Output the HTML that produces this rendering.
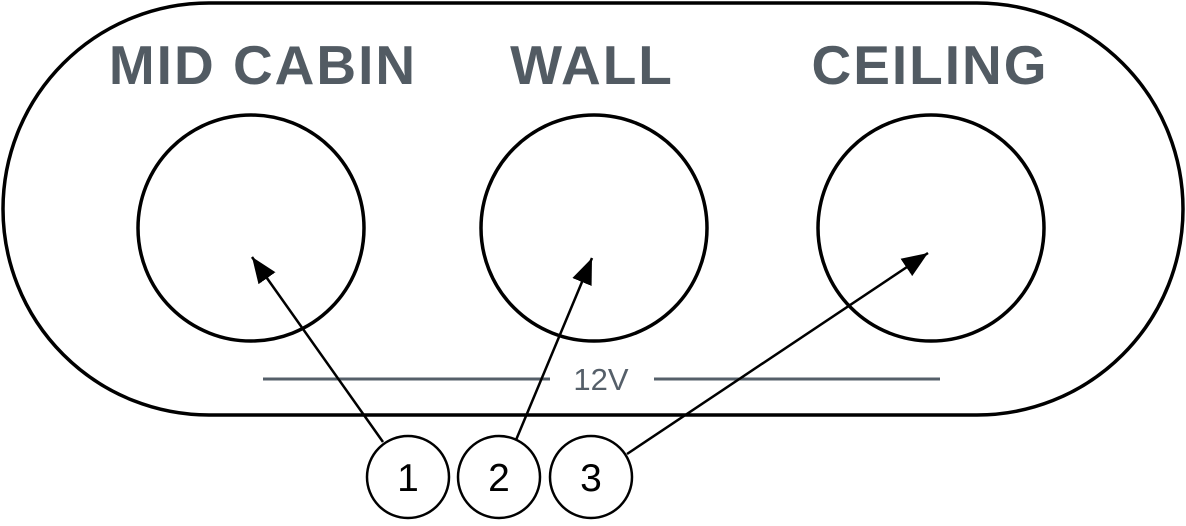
<!DOCTYPE html>
<html><head><style>body{margin:0;background:#fff}</style></head><body>
<svg width="1186" height="521" viewBox="0 0 1186 521" xmlns="http://www.w3.org/2000/svg">
<defs>
<marker id="h" viewBox="0 0 10 10" refX="10" refY="5" markerWidth="26" markerHeight="26" markerUnits="userSpaceOnUse" orient="auto"><path d="M0,1 L10,5 L0,9 Z" fill="#000"/></marker></defs>
<rect x="3" y="3" width="1180" height="412" rx="206" ry="206" fill="none" stroke="#000" stroke-width="3.5"/>
<g font-family="Liberation Sans, sans-serif" font-weight="bold" font-size="55" fill="#525b63" text-anchor="middle" letter-spacing="2">
<text x="263" y="84">MID CABIN</text><text x="592" y="84">WALL</text><text x="930" y="84">CEILING</text></g>
<g fill="none" stroke="#000" stroke-width="3.5">
<circle cx="251" cy="228" r="113"/><circle cx="594" cy="228" r="113"/><circle cx="931" cy="228" r="113"/></g>
<line x1="263" y1="379" x2="550" y2="379" stroke="#555f69" stroke-width="3"/>
<line x1="654" y1="379" x2="940" y2="379" stroke="#555f69" stroke-width="3"/>
<text x="601" y="390" font-family="Liberation Sans, sans-serif" font-size="31" fill="#555f69" text-anchor="middle">12V</text>
<g stroke="#000" stroke-width="2.5" fill="none">
<line x1="383" y1="442" x2="252" y2="257" marker-end="url(#h)"/>
<line x1="516" y1="440" x2="592" y2="258" marker-end="url(#h)"/>
<line x1="627" y1="454" x2="928" y2="253" marker-end="url(#h)"/>
</g>
<g fill="#fff" stroke="#000" stroke-width="2.5">
<circle cx="408" cy="477" r="41"/><circle cx="499" cy="477" r="41"/><circle cx="591" cy="477" r="41"/></g>
<g font-family="Liberation Sans, sans-serif" font-size="39" fill="#000" text-anchor="middle">
<text x="408" y="491">1</text><text x="499" y="491">2</text><text x="591" y="491">3</text></g>
</svg>
</body></html>
